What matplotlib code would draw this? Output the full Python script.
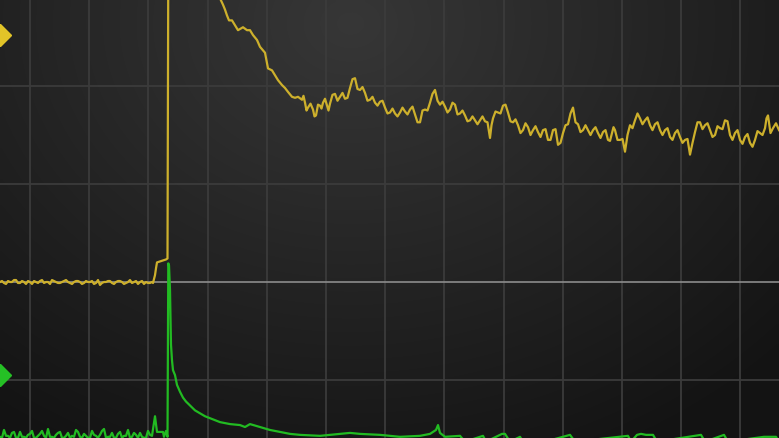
import numpy as np
import matplotlib
matplotlib.use("Agg")
import matplotlib.pyplot as plt

# Scope capture: x = sample index on screen, y = volts (1 V / div)
samples_per_div = 59.2
first_grid_sample = 30

# CH1 (yellow) - baseline noise before the trigger
ch1_base_x = list(range(0, 153, 4)) + list(range(2, 151, 4))
ch1_base_v = [0.0, -0.01, 0.01, 0.0, 0.02, -0.01, 0.0, 0.01, -0.02, 0.0, 0.01, -0.01, 0.0,
              0.02, 0.0, -0.01, 0.01, 0.0, -0.02, 0.01, 0.0, -0.01, 0.0, 0.01, -0.01, -0.03,
              0.0, 0.01, -0.01, 0.0, 0.01, -0.02, 0.0, -0.01, 0.01, 0.0, -0.02, -0.01, 0.0] + \
             [0.01, -0.02, 0.0, 0.02, -0.01, 0.01, -0.02, 0.0, 0.01, -0.01, 0.02, 0.0, -0.02,
              0.01, -0.01, 0.0, 0.02, -0.01, 0.0, 0.01, -0.02, 0.01, 0.0, -0.02, 0.02, -0.01,
              0.0, 0.01, -0.02, 0.01, 0.0, -0.01, 0.02, 0.0, -0.02, 0.01, 0.0, -0.01]

ch1_x = [153, 155, 156, 157, 160, 163, 166, 167.5, 168.3, 219, 220.7, 223, 225, 227, 229, 232,
         235, 238, 243, 247, 250, 253, 257, 260, 265, 268, 272, 275, 278, 282, 285, 288, 292,
         295, 298, 302, 305, 308, 313, 316, 320, 323, 327, 330, 335, 340, 345, 350, 355, 360,
         365, 370, 375, 380, 385, 390, 395, 400, 405, 410, 415, 420, 425, 430, 435, 440, 445,
         450, 455, 460, 465, 470, 475, 480, 485, 490, 493, 498, 503, 508, 513, 518, 523, 528,
         533, 538, 543, 548, 553, 558, 563, 568, 573, 578, 583, 588, 593, 598, 603, 608, 612,
         615, 620, 625, 630, 635, 640, 645, 650, 655, 660, 665, 670, 675, 680, 685, 690, 695,
         700, 705, 710, 715, 720, 725, 730, 735, 740, 745, 750, 755, 760, 765, 768, 773, 779]
ch1_v = [-0.01, 0.07, 0.14, 0.20, 0.21, 0.22, 0.23, 0.24, 3.30, 3.00, 2.88, 2.83, 2.78, 2.72,
         2.67, 2.67, 2.62, 2.57, 2.60, 2.57, 2.57, 2.52, 2.47, 2.40, 2.34, 2.18, 2.16, 2.11,
         2.06, 2.01, 1.98, 1.94, 1.89, 1.88, 1.89, 1.86, 1.83, 1.78, 1.76, 1.70, 1.80, 1.83,
         1.80, 1.82, 1.92, 1.89, 1.87, 1.98, 2.08, 1.96, 1.93, 1.86, 1.83, 1.84, 1.78, 1.73,
         1.72, 1.73, 1.74, 1.76, 1.71, 1.63, 1.76, 1.83, 1.96, 1.81, 1.79, 1.76, 1.81, 1.72,
         1.70, 1.65, 1.65, 1.65, 1.64, 1.47, 1.67, 1.73, 1.80, 1.73, 1.63, 1.60, 1.55, 1.58,
         1.55, 1.53, 1.55, 1.45, 1.55, 1.40, 1.52, 1.61, 1.78, 1.61, 1.55, 1.55, 1.55, 1.52,
         1.53, 1.45, 1.52, 1.55, 1.45, 1.33, 1.60, 1.65, 1.67, 1.65, 1.60, 1.61, 1.55, 1.55,
         1.48, 1.52, 1.48, 1.45, 1.30, 1.53, 1.63, 1.60, 1.55, 1.50, 1.57, 1.65, 1.50, 1.52,
         1.45, 1.48, 1.42, 1.45, 1.52, 1.57, 1.70, 1.57, 1.55]

# CH1 fast jitter read between the main readings
ch1_jit_x = [303.5, 306.5, 310.5, 314.5, 318, 321.5, 325, 328.5, 332.5, 337.5, 342.5, 347.5,
             352.5, 357.5, 362.5, 367.5, 372.5, 377.5, 382.5, 387.5, 392.5, 397.5, 402.5,
             407.5, 412.5, 417.5, 422.5, 427.5, 432.5, 437.5, 442.5, 447.5, 452.5, 457.5,
             462.5, 467.5, 472.5, 477.5, 482.5, 487.5, 491.5, 495.5, 500.5, 505.5, 510.5,
             515.5, 520.5, 525.5, 530.5, 535.5, 540.5, 545.5, 550.5, 555.5, 560.5, 565.5,
             570.5, 575.5, 580.5, 585.5, 590.5, 595.5, 600.5, 605.5, 610, 613.5, 617.5,
             622.5, 627.5, 632.5, 637.5, 642.5, 647.5, 652.5, 657.5, 662.5, 667.5, 672.5,
             677.5, 682.5, 687.5, 692.5, 697.5, 702.5, 707.5, 712.5, 717.5, 722.5, 727.5,
             732.5, 737.5, 742.5, 747.5, 752.5, 757.5, 762.5, 766.5, 770.5, 776]
ch1_jit_v = [1.90, 1.75, 1.82, 1.69, 1.81, 1.77, 1.87, 1.75, 1.91, 1.85, 1.93, 1.88, 2.07,
             1.97, 1.99, 1.85, 1.89, 1.80, 1.85, 1.72, 1.77, 1.69, 1.78, 1.71, 1.79, 1.63,
             1.75, 1.75, 1.92, 1.85, 1.84, 1.73, 1.83, 1.71, 1.75, 1.64, 1.69, 1.61, 1.69,
             1.63, 1.60, 1.74, 1.72, 1.81, 1.64, 1.66, 1.52, 1.62, 1.50, 1.59, 1.48, 1.56,
             1.45, 1.56, 1.42, 1.60, 1.72, 1.63, 1.53, 1.60, 1.50, 1.58, 1.47, 1.55, 1.44,
             1.58, 1.45, 1.46, 1.50, 1.57, 1.72, 1.61, 1.68, 1.55, 1.63, 1.50, 1.57, 1.45,
             1.55, 1.42, 1.46, 1.42, 1.63, 1.56, 1.62, 1.48, 1.59, 1.56, 1.64, 1.45, 1.55,
             1.41, 1.51, 1.38, 1.54, 1.50, 1.67, 1.52, 1.62]

# CH2 (green)
ch2_base_x = list(range(0, 153, 4)) + list(range(2, 151, 4))
ch2_base_v = [-1.58, -1.51, -1.57, -1.54, -1.59, -1.53, -1.58, -1.56, -1.52, -1.59, -1.55,
              -1.57, -1.50, -1.58, -1.56, -1.53, -1.59, -1.54, -1.57, -1.51, -1.58, -1.55,
              -1.59, -1.52, -1.57, -1.56, -1.50, -1.58, -1.54, -1.59, -1.53, -1.57, -1.51,
              -1.58, -1.56, -1.54, -1.59, -1.52, -1.57] + \
             [-1.59, -1.57, -1.59, -1.53, -1.59, -1.58, -1.59, -1.55, -1.59, -1.57, -1.52,
              -1.59, -1.58, -1.59, -1.54, -1.59, -1.57, -1.59, -1.58, -1.53, -1.59, -1.57,
              -1.59, -1.56, -1.59, -1.52, -1.59, -1.58, -1.59, -1.55, -1.59, -1.57, -1.59,
              -1.54, -1.59, -1.58, -1.59, -1.56]

ch2_x = [155, 157, 160, 163, 164, 166, 167.5, 168.3, 169, 170, 171, 172, 173, 175, 177, 180,
         183, 186, 190, 195, 200, 205, 210, 215, 220, 230, 240, 245, 250, 260, 270, 280, 290,
         300, 320, 340, 350, 360, 380, 400, 420, 430, 436, 438, 440, 445, 460, 465, 483, 486,
         502, 505, 510, 520, 523, 545, 570, 575, 628, 631, 637, 641, 646, 653, 657, 701, 705,
         724, 728, 764, 770, 776, 779]
ch2_v = [-1.37, -1.53, -1.53, -1.53, -1.58, -1.52, -1.58, 0.19, 0.17, -0.08, -0.64, -0.80,
         -0.90, -0.95, -1.05, -1.12, -1.18, -1.22, -1.26, -1.31, -1.34, -1.37, -1.39, -1.41,
         -1.43, -1.45, -1.46, -1.48, -1.45, -1.48, -1.51, -1.53, -1.55, -1.56, -1.57, -1.55,
         -1.54, -1.55, -1.56, -1.58, -1.57, -1.55, -1.51, -1.46, -1.54, -1.58, -1.57, -1.63,
         -1.57, -1.63, -1.55, -1.55, -1.63, -1.58, -1.63, -1.63, -1.56, -1.63, -1.57, -1.63,
         -1.56, -1.55, -1.56, -1.56, -1.63, -1.56, -1.63, -1.56, -1.63, -1.58, -1.58, -1.58,
         -1.63]

ch1_marker_v = 2.52
ch2_marker_v = -0.95

ch1_pts = sorted(zip(ch1_base_x + ch1_x + ch1_jit_x, ch1_base_v + ch1_v + ch1_jit_v))
ch2_pts = sorted(zip(ch2_base_x + ch2_x, ch2_base_v + ch2_v))

fig = plt.figure(figsize=(7.79, 4.38), dpi=100)
ax = fig.add_axes([0, 0, 1, 1])
x_lo, x_hi = 0, 779
y_lo, y_hi = -1.592, 2.878
ax.set_xlim(x_lo, x_hi)
ax.set_ylim(y_lo, y_hi)

# dark background, brightest near top centre
gx, gy = np.meshgrid(np.linspace(0, 1, 200), np.linspace(0, 1, 120))
r = np.sqrt(((gx - 0.45) * 1.3) ** 2 + ((gy - 0.95) * 0.9) ** 2)
shade = 0.215 - 0.14 * np.clip(r, 0, 1.0)
ax.imshow(np.dstack([shade] * 3), extent=[x_lo, x_hi, y_lo, y_hi], origin="lower",
          aspect="auto", zorder=0, interpolation="bilinear")

for gxv in np.arange(first_grid_sample, x_hi, samples_per_div):
    ax.axvline(gxv, color="#3b3b3b", lw=1.3, zorder=1)
for gyv in [-1, 1, 2]:
    ax.axhline(gyv, color="#3b3b3b", lw=1.3, zorder=1)
ax.axhline(0, color="#8c8c8c", lw=1.2, zorder=1)

ax.plot([p[0] for p in ch1_pts], [p[1] for p in ch1_pts], color="#cdb02c", lw=1.6, zorder=3)
ax.plot([p[0] for p in ch2_pts], [p[1] for p in ch2_pts], color="#22bb22", lw=1.6, zorder=2)

ax.plot([0], [ch1_marker_v], marker="D", ms=11, color="#e2c428", clip_on=True, zorder=4)
ax.plot([0], [ch2_marker_v], marker="D", ms=11, color="#25c025", clip_on=True, zorder=4)

ax.set_axis_off()
fig.savefig("out.png", dpi=100)
